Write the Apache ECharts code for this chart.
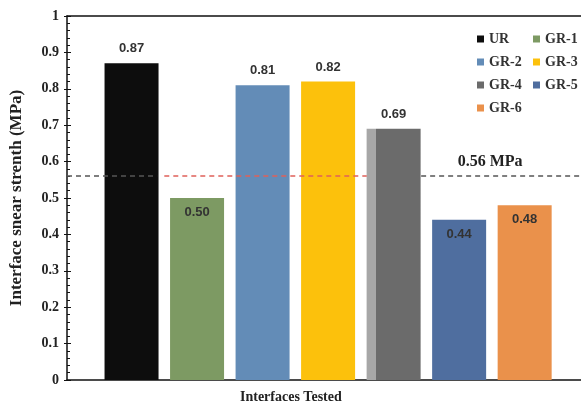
<!DOCTYPE html>
<html>
<head>
<meta charset="utf-8">
<script src="https://cdn.jsdelivr.net/npm/echarts@6/dist/echarts.min.js"></script>
<style>html,body{margin:0;padding:0;background:#fff}#c{width:581px;height:414px}</style>
</head>
<body>
<div id="c"></div>
<script>
const categories = ['UR','GR-1','GR-2','GR-3','GR-4','GR-5','GR-6'];
const values = [0.87, 0.50, 0.81, 0.82, 0.69, 0.44, 0.48];
const colors = ['#0d0d0d','#7d9a63','#638cb7','#fcc10c','#6b6b6b','#4f6e9f','#ea914b'];
const labelPos = ['top','insideTop','top','top','top','insideTop','insideTop'];
const yTicks = [0,0.1,0.2,0.3,0.4,0.5,0.6,0.7,0.8,0.9,1];
const refValue = 0.56;
const refLabel = '0.56 MPa';
const xMin = -0.985, xMax = 6.86;
// reference line segments (x in category-index units)
const refSegments = [
  {from: xMin, to: 0.39, color: '#555555'},
  {from: 0.5, to: 3.59, color: '#e0605a'},
  {from: 4.42, to: xMax, color: '#555555', label: true}
];

const serif = 'Liberation Serif';
const chart = echarts.init(document.getElementById('c'), null, {renderer:'canvas'});

const series = categories.map((name, i) => {
  const item = {value: [i, values[i]]};
  if (name === 'GR-4') {
    item.itemStyle = {color: new echarts.graphic.LinearGradient(0,0,1,0,[
      {offset:0,color:'#a7a7a7'},{offset:0.17,color:'#a7a7a7'},
      {offset:0.17,color:'#6b6b6b'},{offset:1,color:'#6b6b6b'}])};
  }
  return {
    name, type:'bar', stack:'all', barWidth:54,
    itemStyle:{color: colors[i]},
    label:{show:true, position:labelPos[i], distance:8,
      formatter: p => p.value[1].toFixed(2),
      fontFamily:'Liberation Sans', fontWeight:'bold', fontSize:13, color:'#333'},
    data:[item]
  };
});
series[series.length-1].markLine = {
  z: 10, silent:true, symbol:['none','none'],
  data: refSegments.map(seg => [
    {coord:[seg.from, refValue], lineStyle:{color:seg.color, type:[5,4], width:1.5},
     label: seg.label ? {show:true, position:'insideMiddleTop', formatter: refLabel,
       fontFamily: serif, fontWeight:'bold', fontSize:16, color:'#222', distance:6, padding:[0,22,0,0]} : {show:false}},
    {coord:[seg.to, refValue]}
  ])
};

const legendText = {fontFamily: serif, fontWeight:'bold', fontSize:14, color:'#333', lineHeight:14};
const W = 581, gridLeft = 67;
chart.setOption({
  animation:false,
  grid:{left:gridLeft, right:0, top:16, bottom:34},
  legend:[
    {data:['UR','GR-2','GR-4','GR-6'], orient:'vertical', left:472, top:27, itemWidth:7, itemHeight:7, itemGap:9, icon:'rect', textStyle:legendText},
    {data:['GR-1','GR-3','GR-5'], orient:'vertical', left:528, top:27, itemWidth:7, itemHeight:7, itemGap:9, icon:'rect', textStyle:legendText}
  ],
  xAxis:[
    {type:'value', min:xMin, max:xMax, position:'bottom',
     axisLine:{show:true, onZero:false, lineStyle:{color:'#111', width:1.5}},
     axisTick:{show:false}, axisLabel:{show:false}, splitLine:{show:false}},
    {type:'value', min:xMin, max:xMax, position:'top',
     axisLine:{show:true, onZero:false, lineStyle:{color:'#111', width:1.5}},
     axisTick:{show:false}, axisLabel:{show:false}, splitLine:{show:false}}
  ],
  yAxis:[
    {type:'value', min:0, max:1, interval:0.1, position:'left',
     name:'Interface snear strenth (MPa)', nameLocation:'middle', nameGap:42,
     nameTextStyle:{fontFamily:serif, fontWeight:'bold', fontSize:17, color:'#222'},
     axisLine:{show:true, onZero:false, lineStyle:{color:'#111', width:1.5}},
     axisTick:{show:true, inside:false, length:3, lineStyle:{color:'#111'}},
     axisLabel:{margin:8, fontFamily:serif, fontWeight:'bold', fontSize:14, color:'#222',
       formatter: v => { const t = yTicks.find(x => Math.abs(x-v)<1e-9); return (t===0||t===1)? String(t) : v.toFixed(1); }},
     splitLine:{show:false}},
    {type:'value', min:0, max:1, interval:0.1, position:'right', offset:-(W-gridLeft),
     axisLine:{show:false, onZero:false}, axisLabel:{show:false}, splitLine:{show:false},
     axisTick:{show:true, inside:false, length:4, lineStyle:{color:'#111'}},
     minorTick:{show:true, splitNumber:5, length:3, lineStyle:{color:'#111'}}}
  ],
  graphic:[
    {type:'text', left:240, top:390, style:{text:'Interfaces Tested', fontFamily:serif, fontWeight:'bold', fontSize:14, fill:'#222'}}
  ],
  series
});
</script>
</body>
</html>
